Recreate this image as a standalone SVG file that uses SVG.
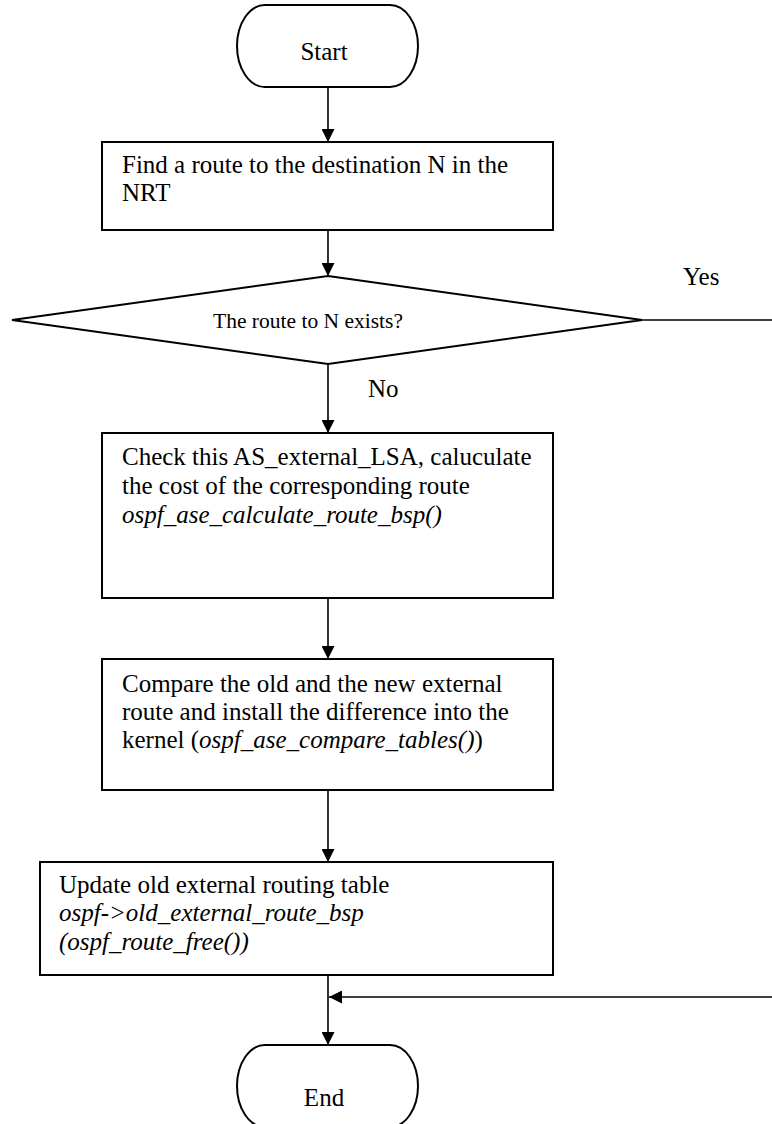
<svg xmlns="http://www.w3.org/2000/svg" width="772" height="1124" viewBox="0 0 772 1124">
  <defs>
    <style>
      .shape { fill: #ffffff; stroke: #000000; stroke-width: 2; }
      .wire { fill: none; stroke: #000000; stroke-width: 1.6; }
      .txt { font-family: "Liberation Serif", "Times New Roman", serif; font-size: 25px; fill: #000000; }
      .small { font-size: 21.5px; }
      .it { font-style: italic; }
    </style>
    <marker id="arrow" markerUnits="userSpaceOnUse" markerWidth="13" markerHeight="13" refX="13" refY="6.5" orient="auto">
      <path d="M0,0 L13,6.5 L0,13 Z" fill="#000000"/>
    </marker>
  </defs>

  <rect width="772" height="1124" fill="#ffffff"/>

  <!-- connectors -->
  <g id="connectors">
    <line class="wire" x1="328" y1="87" x2="328" y2="142" marker-end="url(#arrow)"/>
    <line class="wire" x1="328" y1="230" x2="328" y2="276" marker-end="url(#arrow)"/>
    <line class="wire" x1="328" y1="364" x2="328" y2="433" marker-end="url(#arrow)"/>
    <line class="wire" x1="328" y1="598" x2="328" y2="659" marker-end="url(#arrow)"/>
    <line class="wire" x1="328" y1="790" x2="328" y2="862" marker-end="url(#arrow)"/>
    <line class="wire" x1="328" y1="975" x2="328" y2="1045" marker-end="url(#arrow)"/>
    <line class="wire" x1="642" y1="320" x2="772" y2="320"/>
    <line class="wire" x1="772" y1="997" x2="329" y2="997" marker-end="url(#arrow)"/>
    <text class="txt" x="683" y="285">Yes</text>
    <text class="txt" x="368" y="397">No</text>
  </g>

  <!-- start terminal -->
  <g id="start">
    <rect class="shape" x="237" y="5" width="181" height="82" rx="28" ry="41"/>
    <text class="txt" x="324" y="60" text-anchor="middle">Start</text>
  </g>

  <!-- route lookup -->
  <g id="find-route">
    <rect class="shape" x="102" y="142" width="451" height="88"/>
    <text class="txt" x="122" y="173">Find a route to the destination N in the</text>
    <text class="txt" x="122" y="201">NRT</text>
  </g>

  <!-- decision -->
  <g id="route-exists">
    <polygon class="shape" points="328,276 642,320 328,364 12,320"/>
    <text class="txt small" x="308" y="328" text-anchor="middle">The route to N exists?</text>
  </g>

  <!-- cost calculation -->
  <g id="calculate">
    <rect class="shape" x="102" y="433" width="451" height="165"/>
    <text class="txt" x="122" y="465">Check this AS_external_LSA, caluculate</text>
    <text class="txt" x="122" y="494">the cost of the corresponding route</text>
    <text class="txt it" x="122" y="523">ospf_ase_calculate_route_bsp()</text>
  </g>

  <!-- compare tables -->
  <g id="compare">
    <rect class="shape" x="102" y="659" width="451" height="131"/>
    <text class="txt" x="122" y="692">Compare the old and the new external</text>
    <text class="txt" x="122" y="720">route and install the difference into the</text>
    <text class="txt" x="122" y="748">kernel (<tspan class="it">ospf_ase_compare_tables()</tspan>)</text>
  </g>

  <!-- update old table -->
  <g id="update">
    <rect class="shape" x="40" y="862" width="513" height="113"/>
    <text class="txt" x="59" y="893">Update old external routing table</text>
    <text class="txt it" x="59" y="921">ospf-&gt;old_external_route_bsp</text>
    <text class="txt it" x="59" y="950">(ospf_route_free())</text>
  </g>

  <!-- end terminal -->
  <g id="end">
    <rect class="shape" x="237" y="1045" width="181" height="82" rx="28" ry="41"/>
    <text class="txt" x="324" y="1106" text-anchor="middle">End</text>
  </g>
</svg>
